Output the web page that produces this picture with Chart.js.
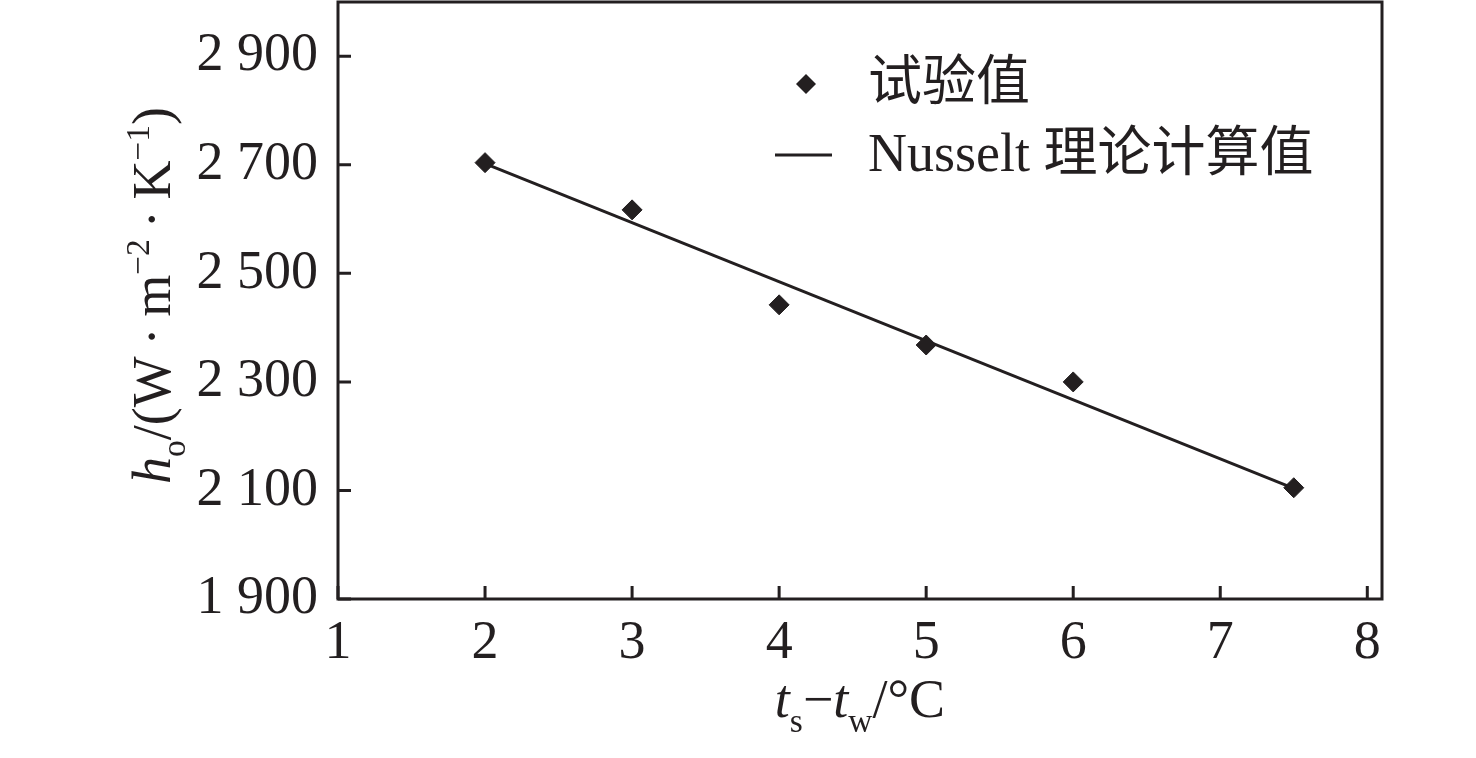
<!DOCTYPE html>
<html>
<head>
<meta charset="utf-8">
<script src="https://cdn.jsdelivr.net/npm/chart.js@4.4.1/dist/chart.umd.min.js"></script>
<style>
html, body { margin: 0; padding: 0; background: #fff; }
#wrap { width: 1476px; height: 758px; }
</style>
</head>
<body>
<div id="wrap"><canvas id="chart" width="1476" height="758"></canvas></div>
<script>
// data
const tempDiff = [2, 3, 4, 5, 6, 7.5];
const measured = [2704, 2617, 2442, 2368, 2300, 2105];
const nusseltX = [2, 7.5];
const nusseltY = [2702, 2104];
const xTicks = [1, 2, 3, 4, 5, 6, 7, 8];
const yTicks = [1900, 2100, 2300, 2500, 2700, 2900];
const yTickLabels = ['1 900', '2 100', '2 300', '2 500', '2 700', '2 900'];
const seriesNames = ['试验值', 'Nusselt 理论计算值'];

const INK = '#231f20';
const SERIF = '"Liberation Serif", "Times New Roman", serif';
const CJK = '"Liberation Serif", "Noto Sans CJK SC", serif';

// draw a run of text pieces: {t, it, sub, sup}
function richText(ctx, parts, x, y, size) {
    let cx = x;
    parts.forEach(p => {
        const s = (p.sub || p.sup) ? size * 0.62 : size;
        ctx.font = (p.it ? 'italic ' : '') + s + 'px ' + SERIF;
        let dy = 0;
        if (p.sub) dy = size * 0.28;
        if (p.sup) dy = -size * 0.38;
        ctx.fillText(p.t, cx, y + dy);
        cx += ctx.measureText(p.t).width;
    });
    return cx - x;
}
function richWidth(ctx, parts, size) {
    let w = 0;
    parts.forEach(p => {
        const s = (p.sub || p.sup) ? size * 0.62 : size;
        ctx.font = (p.it ? 'italic ' : '') + s + 'px ' + SERIF;
        w += ctx.measureText(p.t).width;
    });
    return w;
}

const xTitle = [
    {t: 't', it: true}, {t: 's', sub: true}, {t: '\u2212'},
    {t: 't', it: true}, {t: 'w', sub: true}, {t: '/\u00b0C'}
];
const yTitle = [
    {t: 'h', it: true}, {t: 'o', sub: true}, {t: '/(W\u2009\u00b7\u2009m'},
    {t: '\u22122', sup: true}, {t: '\u2009\u00b7\u2009K'}, {t: '\u22121', sup: true}, {t: ')'}
];

const framePlugin = {
    id: 'frame',
    afterDraw(chart) {
        const ctx = chart.ctx;
        const a = chart.chartArea;
        const xs = chart.scales.x, ys = chart.scales.y;
        ctx.save();
        ctx.strokeStyle = INK;
        ctx.fillStyle = INK;
        ctx.lineWidth = 3;
        ctx.strokeRect(a.left, a.top, a.right - a.left, a.bottom - a.top);

        // inward ticks
        ctx.beginPath();
        xs.ticks.forEach((t, i) => {
            const px = xs.getPixelForTick(i);
            ctx.moveTo(px, a.bottom);
            ctx.lineTo(px, a.bottom - 13);
        });
        ys.ticks.forEach((t, i) => {
            const py = ys.getPixelForTick(i);
            ctx.moveTo(a.left, py);
            ctx.lineTo(a.left + 13, py);
        });
        ctx.stroke();

        // legend
        ctx.textBaseline = 'middle';
        ctx.textAlign = 'left';
        ctx.font = '54px ' + CJK;
        const r = 10;
        ctx.beginPath();
        ctx.moveTo(806, 84 - r); ctx.lineTo(806 + r, 84);
        ctx.lineTo(806, 84 + r); ctx.lineTo(806 - r, 84);
        ctx.closePath(); ctx.fill();
        ctx.fillText(chart.data.datasets[0].label, 868, 86);
        ctx.beginPath();
        ctx.moveTo(775, 155); ctx.lineTo(832, 155); ctx.stroke();
        ctx.fillText(chart.data.datasets[1].label, 868, 157);

        // axis titles
        ctx.textBaseline = 'alphabetic';
        const size = 54;
        const wx = richWidth(ctx, xTitle, size);
        richText(ctx, xTitle, (a.left + a.right) / 2 - wx / 2, 717, size);

        const wy = richWidth(ctx, yTitle, size);
        ctx.translate(170, (a.top + a.bottom) / 2 - 5);
        ctx.rotate(-Math.PI / 2);
        richText(ctx, yTitle, -wy / 2, 0, size);
        ctx.restore();
    }
};

const ctx = document.getElementById('chart').getContext('2d');
new Chart(ctx, {
    type: 'scatter',
    data: {
        datasets: [{
            label: seriesNames[0],
            data: tempDiff.map((x, i) => ({x: x, y: measured[i]})),
            pointStyle: 'rectRot',
            pointRadius: 10,
            backgroundColor: INK,
            borderColor: INK,
            borderWidth: 1,
            showLine: false
        }, {
            label: seriesNames[1],
            data: nusseltX.map((x, i) => ({x: x, y: nusseltY[i]})),
            showLine: true,
            pointRadius: 0,
            borderColor: INK,
            borderWidth: 3
        }]
    },
    options: {
        responsive: false,
        devicePixelRatio: 1,
        animation: false,
        layout: { autoPadding: false, padding: { top: 2, right: 94, left: 0, bottom: 0 } },
        plugins: {
            legend: { display: false },
            tooltip: { enabled: false }
        },
        scales: {
            x: {
                type: 'linear',
                min: 1,
                max: 8.1,
                grid: { display: false },
                border: { display: false },
                afterBuildTicks: s => { s.ticks = xTicks.map(v => ({value: v})); },
                afterFit: s => { s.height = 159; s.paddingLeft = 0; s.paddingRight = 0; },
                ticks: {
                    color: INK,
                    padding: 4,
                    font: { family: SERIF, size: 54 },
                    callback: v => String(v)
                }
            },
            y: {
                min: 1900,
                max: 3000,
                grid: { display: false },
                border: { display: false },
                afterBuildTicks: s => { s.ticks = yTicks.map(v => ({value: v})); },
                afterFit: s => { s.width = 338; s.paddingTop = 0; s.paddingBottom = 0; },
                ticks: {
                    color: INK,
                    padding: 12,
                    font: { family: SERIF, size: 54 },
                    callback: v => yTickLabels[yTicks.indexOf(v)]
                }
            }
        }
    },
    plugins: [framePlugin]
});
</script>
</body>
</html>
